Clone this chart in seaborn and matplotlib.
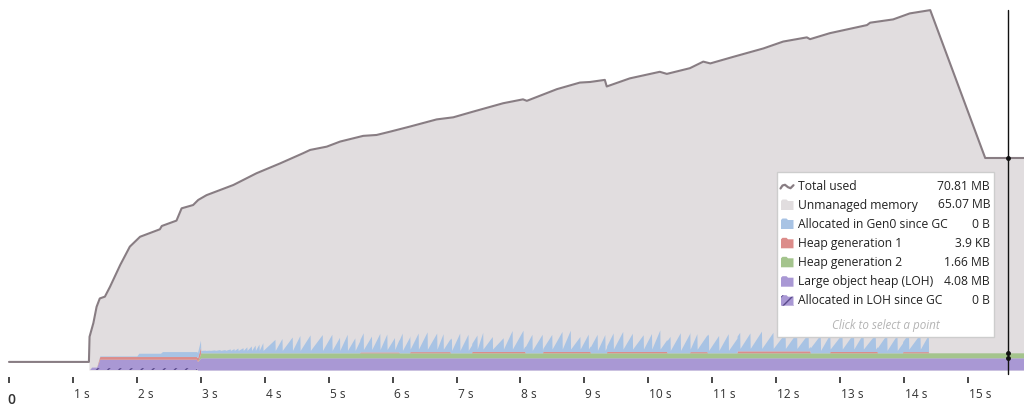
import numpy as np
import pandas as pd
import matplotlib
matplotlib.use("Agg")
import matplotlib.pyplot as plt
import seaborn as sns
from matplotlib import transforms
from matplotlib.patches import Rectangle, Polygon
from matplotlib.lines import Line2D

# ---------------- data (seconds, MB) ----------------
total_t = [0, 1.25, 1.26, 1.32, 1.37, 1.42, 1.50, 1.58, 1.74, 1.89,
           2.05, 2.36, 2.39, 2.62, 2.70, 2.88, 2.96, 3.09, 3.51, 3.87,
           4.24, 4.60, 4.71, 4.97, 5.18, 5.54, 5.75, 5.96, 6.27, 6.69,
           6.95, 7.26, 7.73, 8.04, 8.10, 8.57, 8.93, 9.09, 9.32, 9.35,
           9.71, 10.18, 10.29, 10.65, 10.86, 10.97, 11.33, 11.80, 12.11, 12.48,
           12.53, 12.84, 13.42, 13.47, 13.83, 14.09, 14.41, 15.27, 15.88]
total_mb = [2.7, 2.7, 11.1, 15.7, 21.1, 23.9, 24.5, 27.8, 35.1, 41.2,
            44.5, 47.0, 48.1, 49.9, 54.0, 55.1, 56.8, 58.4, 61.8, 65.7,
            69.0, 72.4, 73.5, 74.6, 76.3, 78.2, 78.5, 79.6, 81.3, 83.7,
            84.4, 86.3, 89.1, 90.4, 89.9, 93.8, 96.0, 96.2, 96.9, 94.7,
            97.4, 99.6, 98.9, 100.8, 103.0, 102.4, 104.6, 107.4, 109.7, 111.1,
            110.5, 112.5, 115.2, 116.0, 117.1, 119.1, 120.2, 70.81, 70.81]

loh_gc_t = [0, 1.27, 1.30, 2.93, 2.95, 15.88]
loh_gc_mb = [0, 0, 0.8, 0.8, 0, 0]

loh_t = [0, 1.37, 1.42, 2.95, 3.0, 15.88]
loh_mb = [0, 0, 2.8, 2.8, 4.08, 4.08]

gen2_t = [0, 2.95, 3.0, 15.88]
gen2_mb = [0, 0, 1.66, 1.66]

gen1_pre_t = [0, 1.37, 1.42, 2.93, 2.995, 3.0]
gen1_pre_mb = [0, 0, 0.9, 0.9, 2.2, 0]
gen1_seg_start = [5.49, 6.27, 7.24, 8.35, 9.35, 10.65, 11.39, 12.84, 13.98]
gen1_seg_end = [6.10, 6.90, 8.07, 9.09, 10.29, 10.92, 12.53, 13.58, 14.38]
gen1_seg_mb = [0.3, 0.4, 0.45, 0.45, 0.45, 0.4, 0.65, 0.45, 0.4]

gen0_pre_t = [0, 1.37, 1.42, 2.00, 2.03, 2.37, 2.40, 2.93, 2.995]
gen0_pre_mb = [0, 0, 0.2, 0.2, 1.1, 1.1, 1.65, 1.65, 2.3]
gen0_floor_mb = 0.8
gen0_peak_t = [3.07, 3.14, 3.22, 3.30, 3.38, 3.46, 3.52, 3.58, 3.66, 3.72,
               3.79, 3.85, 3.91, 3.97, 4.16, 4.27, 4.43, 4.55, 4.71, 4.90,
               5.05, 5.17, 5.29, 5.41, 5.54, 5.67, 5.80, 5.91, 6.03, 6.15,
               6.27, 6.40, 6.54, 6.69, 6.79, 6.92, 7.05, 7.18, 7.32, 7.41,
               7.56, 7.73, 7.87, 8.04, 8.18, 8.34, 8.49, 8.65, 8.78, 8.93,
               9.06, 9.20, 9.32, 9.45, 9.60, 9.75, 9.92, 10.05, 10.18, 10.34,
               10.50, 10.65, 10.76, 10.94, 11.10, 11.25, 11.43, 11.59, 11.77, 11.95,
               12.14, 12.32, 12.50, 12.69, 12.84, 13.03, 13.21, 13.36, 13.55, 13.73,
               13.89, 14.07, 14.25, 14.38]
gen0_peak_mb = [0.9, 0.9, 1.0, 1.1, 1.1, 1.3, 1.4, 1.6, 1.7, 2.0,
                2.3, 2.6, 2.9, 3.4, 4.5, 4.8, 5.3, 5.8, 6.0, 6.1,
                6.2, 5.2, 6.2, 5.0, 6.4, 5.3, 6.2, 6.0, 4.8, 6.6,
                5.4, 6.2, 6.6, 6.2, 6.0, 5.0, 6.6, 6.2, 5.5, 6.4,
                5.0, 4.6, 7.0, 7.1, 6.2, 6.2, 5.7, 6.7, 7.1, 5.0,
                5.8, 6.2, 6.1, 6.2, 6.7, 6.1, 5.6, 6.0, 7.2, 5.5,
                6.7, 6.6, 6.0, 6.3, 5.8, 6.4, 6.2, 6.0, 6.6, 6.2,
                6.0, 6.1, 5.8, 6.0, 6.2, 5.9, 6.1, 6.0, 5.8, 6.2,
                6.0, 6.1, 5.9, 5.6]

selected_t = 15.62

legend_labels = ["Total used", "Unmanaged memory", "Allocated in Gen0 since GC",
                 "Heap generation 1", "Heap generation 2", "Large object heap (LOH)",
                 "Allocated in LOH since GC"]
legend_values = ["70.81 MB", "65.07 MB", "0 B", "3.9 KB", "1.66 MB", "4.08 MB", "0 B"]
hint_text = "Click to select a point"

tick_seconds = list(range(16))
tick_labels = ["0"] + [f"{s} s" for s in tick_seconds[1:]]

# ---------------- colors ----------------
C_LINE = "#887d83"
C_UNMAN = "#e1dddf"
C_GEN0 = "#a8c3e4"
C_GEN1 = "#dc8c8a"
C_GEN2 = "#a4c48d"
C_LOH = "#a998d4"
C_HATCH = "#5a4a8c"

# ---------------- build series ----------------
g1_t = list(gen1_pre_t)
g1_v = list(gen1_pre_mb)
for s, e, v in zip(gen1_seg_start, gen1_seg_end, gen1_seg_mb):
    g1_t += [s - 0.004, s, e, e + 0.004]
    g1_v += [0, v, v, 0]
g1_t.append(15.88)
g1_v.append(0)

g0_t = list(gen0_pre_t) + [3.0]
g0_v = list(gen0_pre_mb) + [gen0_floor_mb]
for i, (pt, pv) in enumerate(zip(gen0_peak_t, gen0_peak_mb)):
    last = i == len(gen0_peak_t) - 1
    g0_t += [pt, pt + 0.004]
    g0_v += [pv, 0 if last else gen0_floor_mb]
g0_t.append(15.88)
g0_v.append(0)

grid = np.unique(np.concatenate([loh_gc_t, loh_t, gen2_t, g1_t, g0_t]))
l_hatch = np.interp(grid, loh_gc_t, loh_gc_mb)
l_loh = np.interp(grid, loh_t, loh_mb)
l_g2 = np.interp(grid, gen2_t, gen2_mb)
l_g1 = np.interp(grid, g1_t, g1_v)
l_g0 = np.interp(grid, g0_t, g0_v)

s0 = l_hatch
s1 = s0 + l_loh
s2 = s1 + l_g2
s3 = s2 + l_g1
s4 = s3 + l_g0

# ---------------- figure ----------------
sns.set_theme(style="white")
plt.rcParams["font.family"] = ["Open Sans", "DejaVu Sans"]
plt.rcParams["hatch.linewidth"] = 1.0

W, H = 1024, 407
PX_PER_S = 63.93
PX_PER_MB = 2.994
fig = plt.figure(figsize=(W / 100, H / 100), dpi=100)
fig.patch.set_facecolor("white")
ax = fig.add_axes([0, 24 / H, 1, 383 / H])
ax.set_facecolor("white")

tt = np.array(total_t)
tm = np.array(total_mb)
ax.fill_between(tt[1:], 0, tm[1:], color=C_UNMAN, lw=0)
ax.fill_between(grid, 0, s0, facecolor=C_LOH, edgecolor=C_HATCH, hatch="///", lw=0)
ax.fill_between(grid, s0, s1, color=C_LOH, lw=0)
ax.fill_between(grid, s1, s2, color=C_GEN2, lw=0)
ax.fill_between(grid, s2, s3, color=C_GEN1, lw=0)
ax.fill_between(grid, s3, s4, color=C_GEN0, lw=0)

df_total = pd.DataFrame({"t": total_t, "mb": total_mb})
sns.lineplot(data=df_total, x="t", y="mb", ax=ax, estimator=None, sort=False,
             color=C_LINE, lw=1.5)

# selection line
ax.plot([selected_t, selected_t], [-1.5, 120.2], color="#111111", lw=1.0)
sel_pts = [70.81, 5.74, 4.08]
ax.plot([selected_t] * len(sel_pts), sel_pts, ls="none", marker="o", ms=2.5, color="#111111")

ax.set_xlim(-9 / PX_PER_S, (W - 9) / PX_PER_S)
ax.set_ylim(-13 / PX_PER_MB, 370 / PX_PER_MB)
ax.set_xlabel("")
ax.set_ylabel("")
ax.set_yticks([])
for sp in ax.spines.values():
    sp.set_visible(False)

ax.set_xticks(tick_seconds)
ax.set_xticklabels(tick_labels)
ax.tick_params(axis="x", direction="in", length=4.3, width=1.3, color="#3a3a3a",
               pad=3.4, labelsize=8.6, labelcolor="#333333", bottom=True)
for i, lbl in enumerate(ax.get_xticklabels()):
    lbl.set_horizontalalignment("left")
    if i == 0:
        lbl.set_fontsize(10)
        lbl.set_fontweight("semibold")
        off = transforms.ScaledTranslation(-1.5 / 100, -5 / 100, fig.dpi_scale_trans)
    else:
        off = transforms.ScaledTranslation(1 / 100, 0, fig.dpi_scale_trans)
    lbl.set_transform(lbl.get_transform() + off)

# ---------------- legend box (pixel coords, origin top-left) ----------------
T = transforms.Affine2D().scale(1 / 100, -1 / 100).translate(0, H / 100) + fig.dpi_scale_trans

box = Rectangle((776.5, 172), 217, 165, transform=T, facecolor="white",
                edgecolor="#cdcdcd", lw=1.0, zorder=10)
fig.add_artist(box)

row_y = [186, 205, 224, 243.3, 262.3, 281.7, 300.7]
icon_colors = [None, C_UNMAN, C_GEN0, C_GEN1, C_GEN2, C_LOH, C_LOH]
for i, (lab, val, yc) in enumerate(zip(legend_labels, legend_values, row_y)):
    if i == 0:
        ln = Line2D([780.5, 782.5, 785, 788, 790.5, 793.5],
                    [188.5, 185.5, 184.8, 187.2, 188.2, 185.2],
                    transform=T, color=C_LINE, lw=1.6, zorder=11)
        fig.add_artist(ln)
    else:
        pts = [(781, yc + 5), (781, yc - 4), (782.5, yc - 5.5), (786.5, yc - 5.5),
               (788, yc - 4), (793.5, yc - 4), (793.5, yc + 5)]
        kw = dict(facecolor=icon_colors[i], lw=0, zorder=11)
        if i == 6:
            kw.update(edgecolor=C_HATCH, hatch="///")
        fig.add_artist(Polygon(pts, closed=True, transform=T, **kw))
    fig.text(798, yc, lab, transform=T, ha="left", va="center", fontsize=8.7,
             color="#222222", zorder=12)
    fig.text(990, yc, val, transform=T, ha="right", va="center", fontsize=8.7,
             color="#222222", zorder=12)

fig.text(885.5, 325, hint_text, transform=T, ha="center", va="center", fontsize=8.4,
         style="italic", color="#b4b4b4", zorder=12)

fig.savefig("out.png", dpi=100, facecolor="white")
